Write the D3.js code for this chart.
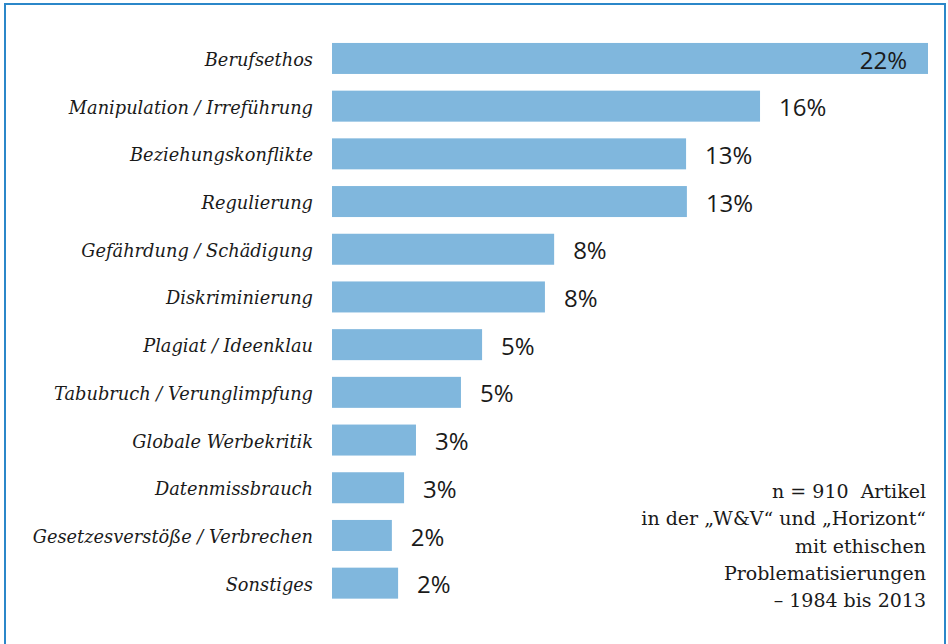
<!DOCTYPE html>
<html>
<head>
<meta charset="utf-8">
<script src="https://cdn.jsdelivr.net/npm/d3@7"></script>
<style>
  html, body { margin: 0; padding: 0; background: #fff; }
  svg { display: block; }
</style>
</head>
<body>
<svg id="chart" width="948" height="644"></svg>
<script>
const categories = [
  "Berufsethos",
  "Manipulation / Irreführung",
  "Beziehungskonflikte",
  "Regulierung",
  "Gefährdung / Schädigung",
  "Diskriminierung",
  "Plagiat / Ideenklau",
  "Tabubruch / Verunglimpfung",
  "Globale Werbekritik",
  "Datenmissbrauch",
  "Gesetzesverstöße / Verbrechen",
  "Sonstiges"
];
const values = [22.0, 15.8, 13.07, 13.1, 8.2, 7.86, 5.54, 4.76, 3.1, 2.66, 2.21, 2.44];
const valueLabels = ["22%", "16%", "13%", "13%", "8%", "8%", "5%", "5%", "3%", "3%", "2%", "2%"];
const noteLines = [
  "n = 910  Artikel",
  "in der \u201EW&V\u201C und \u201EHorizont\u201C",
  "mit ethischen",
  "Problematisierungen",
  "\u2013 1984 bis 2013"
];

const svg = d3.select("#chart");

// frame
svg.append("path")
  .attr("d", "M5,644 V4 H945 V644")
  .attr("fill", "none")
  .attr("stroke", "#2b87c9")
  .attr("stroke-width", 2);

const x = d3.scaleLinear().domain([0, 22]).range([332, 928]);
const y = d3.scaleBand().domain(categories).range([34.6, 607]).paddingInner(0.35).paddingOuter(0.175);

svg.append("g").selectAll("rect")
  .data(categories)
  .join("rect")
  .attr("x", x(0))
  .attr("y", d => y(d))
  .attr("width", (d, i) => x(values[i]) - x(0))
  .attr("height", y.bandwidth())
  .attr("fill", "#80b7dd");

// category axis
const yAxis = d3.axisLeft(y).tickSize(0).tickPadding(19);
const ag = svg.append("g").attr("transform", `translate(${x(0)},0)`).call(yAxis);
ag.select(".domain").remove();
ag.selectAll("text")
  .attr("font-family", "'DejaVu Serif', serif")
  .attr("font-style", "italic")
  .attr("font-size", 17.8)
  .attr("fill", "#1a1a1a")
  .attr("dy", "0.42em");

// value labels
svg.append("g").selectAll("text")
  .data(categories)
  .join("text")
  .attr("x", (d, i) => i === 0 ? x(values[i]) - 21 : x(values[i]) + 19)
  .attr("y", d => y(d) + y.bandwidth() / 2)
  .attr("dy", "0.42em")
  .attr("text-anchor", (d, i) => i === 0 ? "end" : "start")
  .attr("font-family", "'Open Sans', sans-serif")
  .attr("font-size", 24)
  .attr("fill", "#1a1a1a")
  .text((d, i) => valueLabels[i]);

// note
svg.append("g").selectAll("text")
  .data(noteLines)
  .join("text")
  .attr("x", 926)
  .attr("y", (d, i) => 498 + i * 27.3)
  .attr("text-anchor", "end")
  .attr("font-family", "'DejaVu Serif', serif")
  .attr("font-size", 19)
  .attr("fill", "#1a1a1a")
  .style("white-space", "pre")
  .text(d => d);
</script>
</body>
</html>
